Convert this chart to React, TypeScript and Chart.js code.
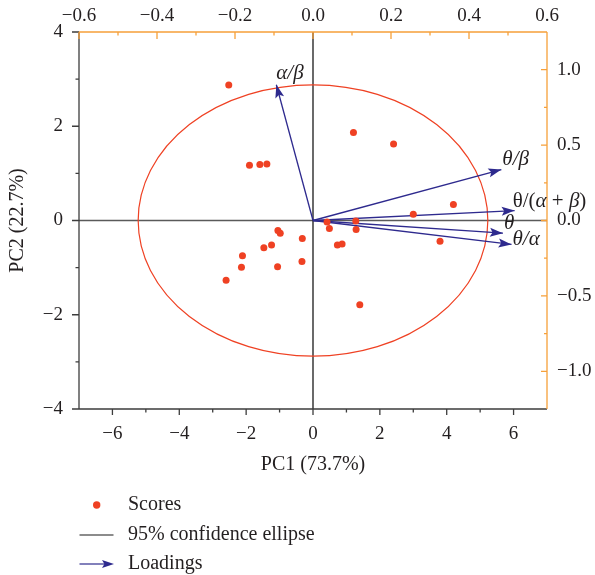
import React, { useEffect, useRef } from 'react';
import { Chart, registerables } from 'chart.js';

Chart.register(...registerables);

// ---- Data ----
const scoreX = [-2.52, 1.21, 2.41, -1.9, -1.59, -1.38, 3.0, 4.2, 3.8, 1.4, 0.42, 0.49, 1.28, 1.29, 0.73, 0.87, -1.05, -0.98, -0.32, -1.24, -1.47, -2.11, -2.14, -1.06, -0.33, -2.6];
const scoreY = [2.875, 1.87, 1.625, 1.17, 1.19, 1.2, 0.13, 0.34, -0.44, -1.79, -0.03, -0.17, -0.01, -0.19, -0.52, -0.5, -0.21, -0.27, -0.38, -0.52, -0.58, -0.75, -0.99, -0.98, -0.87, -1.27];

// label segments: [text, italic]
const loadingLabels: [string, boolean][][] = [
  [['α/β', true]],
  [['θ/β', true]],
  [['θ/(', false], ['α', true], [' + ', false], ['β', true], [')', false]],
  [['θ', true]],
  [['θ/α', true]],
];
const loadingX = [-0.094, 0.483, 0.517, 0.487, 0.509];
const loadingY = [0.9, 0.338, 0.066, -0.084, -0.159];

const ellipseRadii = [5.23, 2.88]; // semi-axes in PC1 / PC2 units

const bottomTicks = [-6, -4, -2, 0, 2, 4, 6];
const bottomMinor = [-5, -3, -1, 1, 3, 5];
const leftTicks = [-4, -2, 0, 2, 4];
const leftMinor = [-3, -1, 1, 3];
const topTicks = [-0.6, -0.4, -0.2, 0, 0.2, 0.4, 0.6];
const topMinor = [-0.5, -0.3, -0.1, 0.1, 0.3, 0.5];
const rightTicks = [-1.0, -0.5, 0, 0.5, 1.0];
const rightMinor = [-0.75, -0.25, 0.25, 0.75];

const xTitle = 'PC1 (73.7%)';
const yTitle = 'PC2 (22.7%)';
const legendLabels = ['Scores', '95% confidence ellipse', 'Loadings'];

// ---- Styles ----
const SERIF = '"Liberation Serif", "Times New Roman", serif';
const TEXT = '#231f20';
const GRAY = '#3d3d3d';
const ORANGE = '#f6a03a';
const RED = '#ef4123';
const BLUE = '#2e2a8e';

const fmt = (dec: number) => (v: number) => {
  const s = Math.abs(v).toFixed(dec);
  return v < -1e-9 ? '\u2212' + s : s;
};

function drawArrowHead(ctx: CanvasRenderingContext2D, x0: number, y0: number, x1: number, y1: number, len: number, half: number, color: string) {
  const a = Math.atan2(y1 - y0, x1 - x0);
  ctx.save();
  ctx.fillStyle = color;
  ctx.beginPath();
  ctx.moveTo(x1, y1);
  ctx.lineTo(x1 - len * Math.cos(a) + half * Math.sin(a), y1 - len * Math.sin(a) - half * Math.cos(a));
  ctx.lineTo(x1 - len * Math.cos(a) * 0.8, y1 - len * Math.sin(a) * 0.8);
  ctx.lineTo(x1 - len * Math.cos(a) - half * Math.sin(a), y1 - len * Math.sin(a) + half * Math.cos(a));
  ctx.closePath();
  ctx.fill();
  ctx.restore();
}

const labelOffsets = [
  [0, -11],
  [1, -10],
  [-2, -9],
  [1, -10],
  [1, -5],
];

const decorPlugin = {
  id: 'pcaDecor',
  beforeDatasetsDraw(chart: any) {
    const { ctx, chartArea } = chart;
    const xs = chart.scales.x, ys = chart.scales.y;
    const cx = xs.getPixelForValue(0), cy = ys.getPixelForValue(0);
    ctx.save();
    // zero lines
    ctx.lineWidth = 1.3;
    ctx.strokeStyle = '#5a5a5a';
    ctx.beginPath();
    ctx.moveTo(chartArea.left, cy);
    ctx.lineTo(chartArea.right, cy);
    ctx.stroke();
    ctx.strokeStyle = '#1a1a1a';
    ctx.beginPath();
    ctx.moveTo(cx, chartArea.top);
    ctx.lineTo(cx, chartArea.bottom);
    ctx.stroke();
    // ellipse
    const rx = xs.getPixelForValue(ellipseRadii[0]) - cx;
    const ry = cy - ys.getPixelForValue(ellipseRadii[1]);
    ctx.strokeStyle = RED;
    ctx.lineWidth = 1.2;
    ctx.beginPath();
    ctx.ellipse(cx, cy, rx, ry, 0, 0, Math.PI * 2);
    ctx.stroke();
    ctx.restore();
  },
  afterDatasetDraw(chart: any, args: any) {
    const ds = chart.data.datasets[args.index];
    if (!ds.isLoading) return;
    const pts = args.meta.data;
    drawArrowHead(chart.ctx, pts[0].x, pts[0].y, pts[1].x, pts[1].y, 13, 4.5, BLUE);
  },
  afterDraw(chart: any) {
    const { ctx, chartArea } = chart;
    const { left, right, top, bottom } = chartArea;
    const xs = chart.scales.x, ys = chart.scales.y, x2 = chart.scales.x2, y2 = chart.scales.y2;
    ctx.save();
    ctx.lineWidth = 1.3;
    // left & bottom axes
    ctx.strokeStyle = GRAY;
    ctx.beginPath();
    ctx.moveTo(left, top);
    ctx.lineTo(left, bottom);
    ctx.moveTo(left, bottom);
    ctx.lineTo(right, bottom);
    leftTicks.forEach((v) => { const p = ys.getPixelForValue(v); ctx.moveTo(left - 7, p); ctx.lineTo(left, p); });
    leftMinor.forEach((v) => { const p = ys.getPixelForValue(v); ctx.moveTo(left - 3.5, p); ctx.lineTo(left, p); });
    bottomTicks.forEach((v) => { const p = xs.getPixelForValue(v); ctx.moveTo(p, bottom); ctx.lineTo(p, bottom + 6); });
    bottomMinor.forEach((v) => { const p = xs.getPixelForValue(v); ctx.moveTo(p, bottom); ctx.lineTo(p, bottom + 3.5); });
    ctx.stroke();
    // top & right axes
    ctx.strokeStyle = ORANGE;
    ctx.beginPath();
    ctx.moveTo(left, top);
    ctx.lineTo(right, top);
    ctx.moveTo(right, top);
    ctx.lineTo(right, bottom);
    topTicks.forEach((v) => { const p = x2.getPixelForValue(v); ctx.moveTo(p, top); ctx.lineTo(p, top + 7); });
    topMinor.forEach((v) => { const p = x2.getPixelForValue(v); ctx.moveTo(p, top); ctx.lineTo(p, top + 3.5); });
    rightTicks.forEach((v) => { const p = y2.getPixelForValue(v); ctx.moveTo(right, p); ctx.lineTo(right - 6, p); });
    rightMinor.forEach((v) => { const p = y2.getPixelForValue(v); ctx.moveTo(right, p); ctx.lineTo(right - 3, p); });
    ctx.stroke();

    // axis titles
    ctx.fillStyle = TEXT;
    ctx.font = `20px ${SERIF}`;
    ctx.textAlign = 'center';
    ctx.textBaseline = 'middle';
    ctx.fillText(xTitle, (left + right) / 2, 465);
    ctx.save();
    ctx.translate(18, (top + bottom) / 2);
    ctx.rotate(-Math.PI / 2);
    ctx.fillText(yTitle, 0, 0);
    ctx.restore();

    // loading labels
    ctx.textAlign = 'left';
    ctx.textBaseline = 'middle';
    loadingLabels.forEach((segs, i) => {
      const px = x2.getPixelForValue(loadingX[i]) + labelOffsets[i][0];
      const py = y2.getPixelForValue(loadingY[i]) + labelOffsets[i][1];
      let cxp = px;
      segs.forEach(([t, it]) => {
        ctx.font = `${it ? 'italic ' : ''}21px ${SERIF}`;
        ctx.fillText(t, cxp, py);
        cxp += ctx.measureText(t).width;
      });
    });

    // legend
    ctx.font = `20px ${SERIF}`;
    const lx = 128;
    const ly = [505, 535, 564];
    ctx.fillStyle = RED;
    ctx.beginPath();
    ctx.arc(96.7, ly[0], 3.7, 0, Math.PI * 2);
    ctx.fill();
    ctx.strokeStyle = '#1a1a1a';
    ctx.lineWidth = 1.2;
    ctx.beginPath();
    ctx.moveTo(79.5, ly[1]);
    ctx.lineTo(113.5, ly[1]);
    ctx.stroke();
    ctx.strokeStyle = BLUE;
    ctx.beginPath();
    ctx.moveTo(79.5, ly[2]);
    ctx.lineTo(108, ly[2]);
    ctx.stroke();
    drawArrowHead(ctx, 79.5, ly[2], 114, ly[2], 12, 4, BLUE);
    ctx.fillStyle = TEXT;
    legendLabels.forEach((t, i) => ctx.fillText(t, lx, ly[i]));
    ctx.restore();
  },
};

export default function App() {
  const ref = useRef<HTMLCanvasElement | null>(null);
  useEffect(() => {
    if (!ref.current) return;
    const tickFont = { family: SERIF, size: 19 };
    const scoreData = scoreX.map((x, i) => ({ x, y: scoreY[i] }));
    const loadingSets = loadingX.map((lx, i) => ({
      label: 'loading' + i,
      isLoading: true,
      data: [{ x: 0, y: 0 }, { x: lx, y: loadingY[i] }],
      xAxisID: 'x2',
      yAxisID: 'y2',
      showLine: true,
      borderColor: BLUE,
      borderWidth: 1.3,
      pointRadius: 0,
      pointHoverRadius: 0,
      order: 2,
    }));
    const chart = new Chart(ref.current, {
      type: 'scatter',
      data: {
        datasets: [
          {
            label: 'Scores',
            data: scoreData,
            xAxisID: 'x',
            yAxisID: 'y',
            backgroundColor: RED,
            borderWidth: 0,
            pointRadius: 3.5,
            order: 1,
          } as any,
          ...(loadingSets as any[]),
        ],
      },
      options: {
        responsive: false,
        animation: false,
        events: [],
        layout: { padding: { left: 0, right: 0, top: 0, bottom: 110 } },
        plugins: { legend: { display: false }, tooltip: { enabled: false } },
        scales: {
          x: {
            type: 'linear', position: 'bottom', min: -7, max: 7,
            afterBuildTicks: (s: any) => { s.ticks = bottomTicks.map((value) => ({ value })); },
            afterFit: (s: any) => { s.height = 56; },
            grid: { display: false, drawTicks: false },
            border: { display: false },
            ticks: { font: tickFont, color: TEXT, padding: 14, autoSkip: false, maxRotation: 0, callback: fmt(0) },
          },
          y: {
            type: 'linear', position: 'left', min: -4, max: 4,
            afterBuildTicks: (s: any) => { s.ticks = leftTicks.map((value) => ({ value })); },
            afterFit: (s: any) => { s.width = 79; },
            grid: { display: false, drawTicks: false },
            border: { display: false },
            ticks: { font: tickFont, color: TEXT, padding: 16, autoSkip: false, callback: fmt(0) },
          },
          x2: {
            type: 'linear', position: 'top', min: -0.6, max: 0.6,
            afterBuildTicks: (s: any) => { s.ticks = topTicks.map((value) => ({ value })); },
            afterFit: (s: any) => { s.height = 32; },
            grid: { display: false, drawTicks: false },
            border: { display: false },
            ticks: { font: tickFont, color: TEXT, padding: 5, autoSkip: false, maxRotation: 0, callback: fmt(1) },
          },
          y2: {
            type: 'linear', position: 'right', min: -1.25, max: 1.25,
            afterBuildTicks: (s: any) => { s.ticks = rightTicks.map((value) => ({ value })); },
            afterFit: (s: any) => { s.width = 48; },
            grid: { display: false, drawTicks: false },
            border: { display: false },
            ticks: { font: tickFont, color: TEXT, padding: 10, autoSkip: false, callback: fmt(1) },
          },
        },
      } as any,
      plugins: [decorPlugin],
    });
    return () => chart.destroy();
  }, []);
  return (
    <div style={{ position: 'absolute', left: 0, top: 0, width: 595, height: 575, background: '#fff' }}>
      <canvas ref={ref} width={595} height={575} style={{ display: 'block' }} />
    </div>
  );
}
